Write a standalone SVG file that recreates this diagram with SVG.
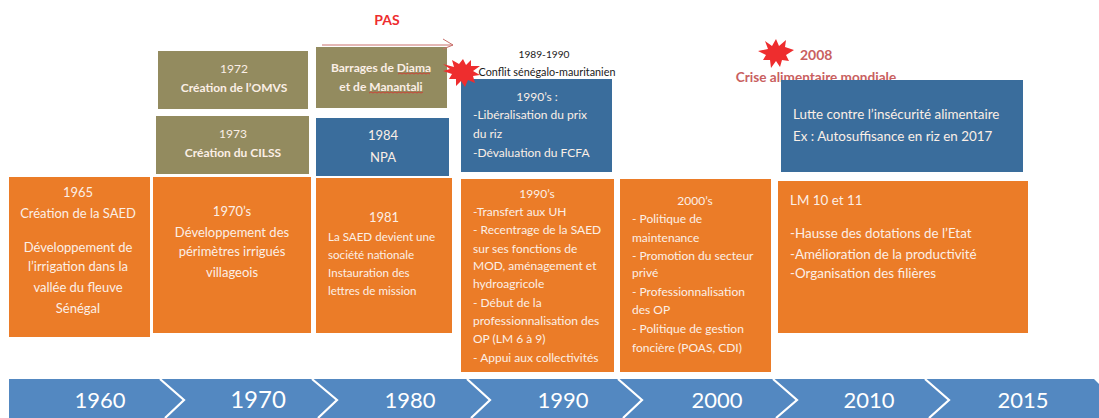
<svg xmlns="http://www.w3.org/2000/svg" width="1099" height="418" viewBox="0 0 1099 418">
<style>
text{font-family:Lato,"Open Sans","Liberation Sans",sans-serif;font-size:12px;fill:#fbefe6}
.c{text-anchor:middle}
.o{fill:#eb7c28}
.g{fill:#938b5f}
.b{fill:#3a6d9c}
.bd{font-weight:700}
.y{font-size:22px;fill:#fff;text-anchor:middle}
.k{fill:#1a1a1a;font-size:10.8px}
.r{fill:#c9605f;font-weight:700}
.s{fill:#ee2d2e}
.u{fill:none;stroke:#d8352f;stroke-width:.8}
.m{font-size:13px}
.l{font-size:13.4px}
.n{font-size:11.6px}
</style>
<g id="timeline">
<path d="M9 379H1094L1099 384V418H9Z" fill="#5388c1"/>
<path d="M160 379L184 400L165 418M312 379L337 400L318 418M467 379L490 400L471 418M618 379L642 400L623 418M773 379L797 400L776 418M925 379L949 400L929 418" fill="none" stroke="#fff" stroke-width="2.2"/>
<text class="y" x="100" y="408">1960</text>
<text class="y" x="258" y="408" style="font-size:24px">1970</text>
<text class="y" x="410" y="408">1980</text>
<text class="y" x="563" y="408">1990</text>
<text class="y" x="717" y="408">2000</text>
<text class="y" x="869" y="408">2010</text>
<text class="y" x="1023" y="408">2015</text>
</g>
<g id="n1965">
<rect class="o" x="9" y="177" width="141" height="160"/>
<text class="c m" x="78" y="197">1965</text>
<text class="c m" x="78" y="218">Création de la SAED</text>
<text class="c m" x="78" y="252">Développement de</text>
<text class="c m" x="78" y="271">l’irrigation dans la</text>
<text class="c m" x="78" y="292">vallée du fleuve</text>
<text class="c m" x="78" y="313">Sénégal</text>
</g>
<g id="n1970s">
<rect class="o" x="153" y="177" width="158" height="156"/>
<text class="c m" x="232" y="216">1970’s</text>
<text class="c m" x="232" y="237">Développement des</text>
<text class="c m" x="232" y="256">périmètres irrigués</text>
<text class="c m" x="232" y="277">villageois</text>
</g>
<g id="n1972">
<rect class="g" x="158" y="51" width="150" height="58"/>
<text class="c" x="234" y="73">1972</text>
<text class="c bd" x="234" y="92">Création de l’OMVS</text>
</g>
<g id="n1973">
<rect class="g" x="156" y="116" width="153" height="58"/>
<text class="c" x="233" y="138">1973</text>
<text class="c bd" x="233" y="157">Création du CILSS</text>
</g>
<g id="n1981">
<rect class="o" x="316" y="178" width="136" height="155"/>
<text class="c m" x="384" y="222">1981</text>
<text class="n" x="328" y="241">La SAED devient une</text>
<text class="n" x="328" y="259">société nationale</text>
<text class="n" x="328" y="277">Instauration des</text>
<text class="n" x="328" y="295">lettres de mission</text>
</g>
<g id="n1984">
<rect class="b" x="316" y="118" width="133" height="58"/>
<text class="c m" x="383" y="140">1984</text>
<text class="c m" x="383" y="162">NPA</text>
</g>
<g id="nBarrages">
<rect class="g" x="316" y="47" width="131" height="61"/>
<text class="c bd" x="381" y="72">Barrages de Diama</text>
<text class="c bd" x="381" y="91">et de Manantali</text>
<path class="u" d="M398 74l2-1 2 1 2-1 2 1 2-1 2 1 2-1 2 1 2-1 2 1 2-1 2 1 2-1 2 1 2-1 2 1M369 93l2-1 2 1 2-1 2 1 2-1 2 1 2-1 2 1 2-1 2 1 2-1 2 1 2-1 2 1 2-1 2 1 2-1 2 1 2-1 2 1 2-1 2 1 2-1 2 1 2-1 2 1 2-1"/>
</g>
<g id="nPAS">
<text class="c bd" x="387" y="25" style="font-size:14px;fill:#ee2d2e">PAS</text>
</g>
<g id="nConflit">
<text class="c k" x="544" y="58" style="font-size:10.2px">1989-1990</text>
<text class="c k" x="547" y="76">Conflit sénégalo-mauritanien</text>
</g>
<g id="n1990b">
<rect class="b" x="461" y="79" width="151" height="93"/>
<text class="c" x="537" y="101">1990’s :</text>
<text x="473" y="119">-Libéralisation du prix</text>
<text x="473" y="138">du riz</text>
<text x="473" y="157">-Dévaluation du FCFA</text>
</g>
<g id="star1">
<path class="s" d="M443 64L454 67L452 60L459 64L463 59L466 65L471 60L471 66L480 66L473 71L480 75L473 76L475 83L468 80L465 87L461 81L456 86L456 79L449 79L452 74L443 71L450 69Z"/>
</g>
<g id="n1990o">
<rect class="o" x="461" y="179" width="153" height="193"/>
<text class="c" x="537" y="198">1990’s</text>
<text x="473" y="216">-Transfert aux UH</text>
<text x="473" y="234">- Recentrage de la SAED</text>
<text x="473" y="253">sur ses fonctions de</text>
<text x="473" y="270">MOD, aménagement et</text>
<text x="473" y="288">hydroagricole</text>
<text x="473" y="307">- Début de la</text>
<text x="473" y="325">professionnalisation des</text>
<text x="473" y="343">OP (LM 6 à 9)</text>
<text x="473" y="362">- Appui aux collectivités</text>
</g>
<g id="n2000">
<rect class="o" x="620" y="179" width="151" height="193"/>
<text class="c" x="695" y="205">2000’s</text>
<text x="632" y="223">- Politique de</text>
<text x="632" y="242">maintenance</text>
<text x="632" y="260">- Promotion du secteur</text>
<text x="632" y="277">privé</text>
<text x="632" y="296">- Professionnalisation</text>
<text x="632" y="314">des OP</text>
<text x="632" y="333">- Politique de gestion</text>
<text x="632" y="352">foncière (POAS, CDI)</text>
</g>
<g id="n2008">
<text class="r" x="800" y="60" style="font-size:14px">2008</text>
<text class="r c" x="816" y="82" style="font-size:13.6px">Crise alimentaire mondiale</text>
<path class="s" d="M758 51L768 49L765 41L772 46L776 39L779 46L786 40L785 47L794 50L786 55L789 61L782 60L780 67L776 61L771 68L770 60L763 60L766 55Z"/>
</g>
<g id="nLutte">
<rect class="b" x="781" y="80" width="242" height="92"/>
<text class="l" x="793" y="119">Lutte contre l’insécurité alimentaire</text>
<text class="l" x="793" y="141">Ex : Autosuffisance en riz en 2017</text>
</g>
<g id="nLM">
<rect class="o" x="778" y="181" width="250" height="152"/>
<text class="l" x="790" y="205">LM 10 et 11</text>
<text class="l" x="790" y="238">-Hausse des dotations de l’Etat</text>
<text class="l" x="790" y="259">-Amélioration de la productivité</text>
<text class="l" x="790" y="278">-Organisation des filières</text>
</g>
<g id="connectors">
<path d="M322 45H453M443 39L453 45L443 49" fill="none" stroke="#c9706c" stroke-width="1"/>
</g>
</svg>
